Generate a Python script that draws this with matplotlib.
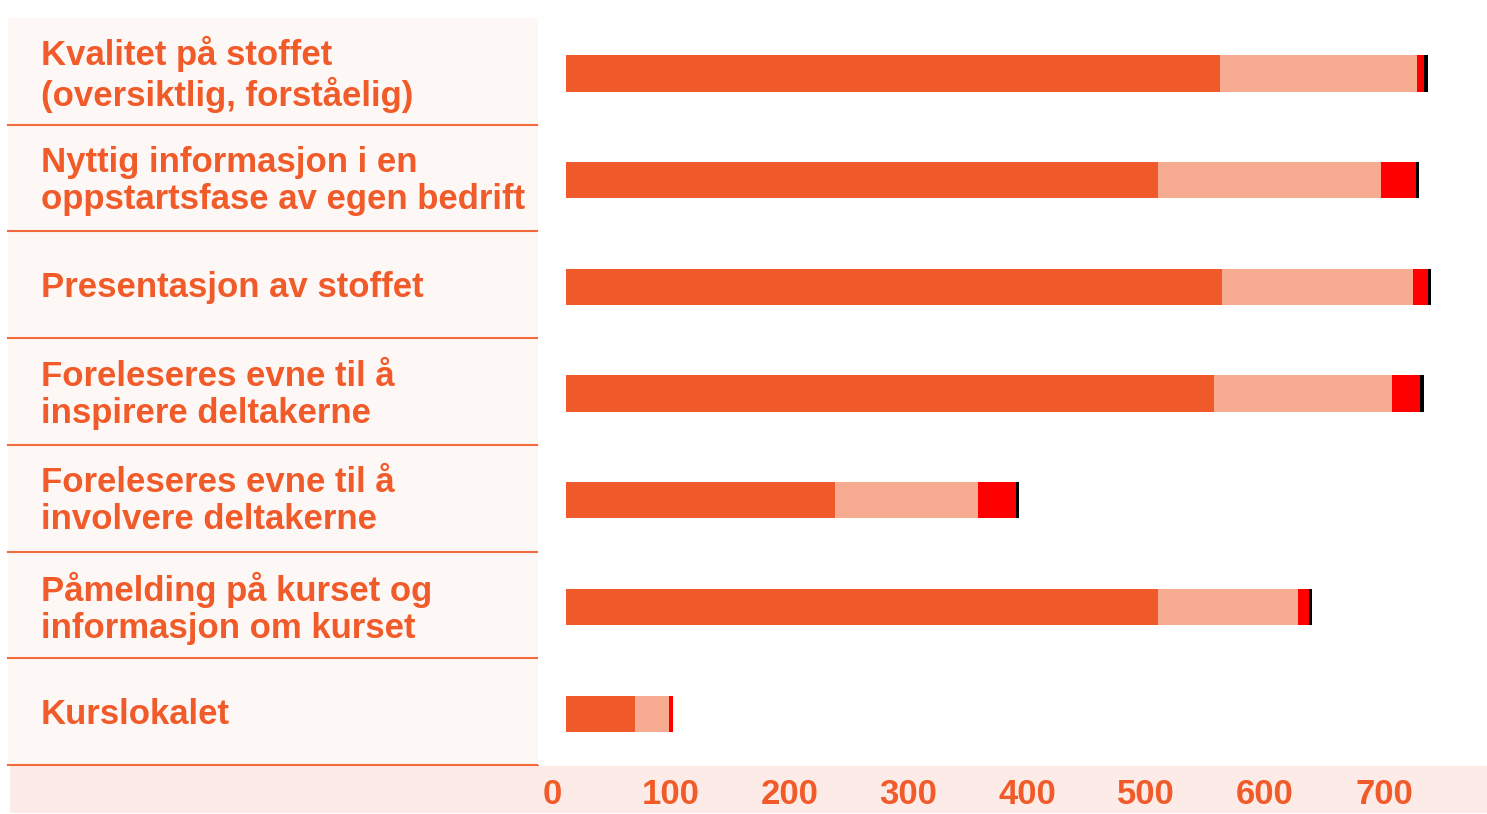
import matplotlib
matplotlib.use("Agg")
import matplotlib.pyplot as plt
import matplotlib.transforms as mtransforms
from matplotlib.patches import Rectangle

# data
categories = [
    "Kvalitet på stoffet\n(oversiktlig, forståelig)",
    "Nyttig informasjon i en\noppstartsfase av egen bedrift",
    "Presentasjon av stoffet",
    "Foreleseres evne til å\ninspirere deltakerne",
    "Foreleseres evne til å\ninvolvere deltakerne",
    "Påmelding på kurset og\ninformasjon om kurset",
    "Kurslokalet",
]
very_good = [550, 498, 552, 545, 226, 498, 58]
good = [166, 188, 161, 150, 121, 118, 29]
poor = [6, 29, 12, 24, 32, 9, 3]
very_poor = [3, 3, 3, 3, 2, 3, 0]
ticks = [0, 100, 200, 300, 400, 500, 600, 700]

seg_colors = ["#F05A2B", "#F7AB90", "#FF0000", "#000000"]
text_col = "#F15A29"
line_col = "#F36A3C"

plt.rcParams["font.family"] = ["Liberation Sans", "DejaVu Sans"]

W, H = 1487, 814
fig = plt.figure(figsize=(W / 100, H / 100), dpi=100)


def px_rect(x0, y0, x1, y1):
    return [x0 / W, 1 - y1 / H, (x1 - x0) / W, (y1 - y0) / H]


# bottom strip behind the tick labels
fig.patches.append(Rectangle((10 / W, 1 - 813 / H), (1487 - 10) / W, (813 - 766) / H,
                             transform=fig.transFigure, facecolor="#FCEBE6",
                             edgecolor="none", zorder=-1))

# ---- label panel
ax_lab = fig.add_axes(px_rect(8, 18, 538, 765))
ax_lab.set_facecolor("#FDF8F6")
ax_lab.set_xlim(0, 1)
ax_lab.set_ylim(len(categories) - 0.5, -0.5)
for s in ax_lab.spines.values():
    s.set_visible(False)
ax_lab.set_xticks([])
ax_lab.set_yticks([])
for i, c in enumerate(categories):
    ax_lab.text(0.0623, i + 0.03, c, ha="left", va="center", color=text_col,
                fontsize=25, fontweight="bold", linespacing=1.15)
    ax_lab.axhline(i + 0.5, color=line_col, lw=1.5, clip_on=False)

# ---- bars
ax = fig.add_axes(px_rect(538, 18, 1487, 765))
ax.set_ylim(len(categories) - 0.5, -0.5)
ax.set_xlim(-23.6, 775)
ypos = [i + 0.02 for i in range(len(categories))]
left = [0] * len(categories)
for vals, col in zip([very_good, good, poor, very_poor], seg_colors):
    ax.barh(ypos, vals, left=left, height=0.34, color=col, edgecolor="none")
    left = [a + b for a, b in zip(left, vals)]

for s in ax.spines.values():
    s.set_visible(False)
ax.set_yticks([])
ax.set_xticks(ticks)
ax.set_xticklabels([str(t) for t in ticks])
ax.tick_params(axis="x", length=0, pad=9, labelsize=25, labelcolor=text_col)
shift = mtransforms.ScaledTranslation(-14 / 100, 0, fig.dpi_scale_trans)
for lab in ax.get_xticklabels():
    lab.set_fontweight("bold")
    lab.set_transform(lab.get_transform() + shift)

fig.savefig("out.png", dpi=100)
